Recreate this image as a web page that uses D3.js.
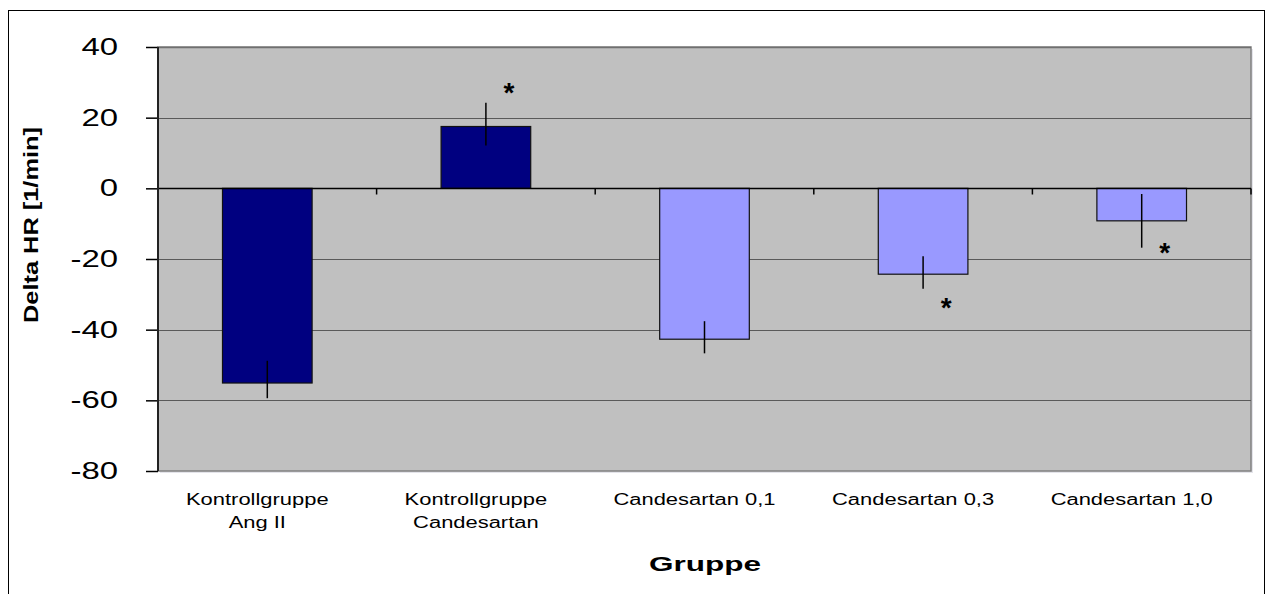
<!DOCTYPE html>
<html><head><meta charset="utf-8">
<script src="https://cdn.jsdelivr.net/npm/d3@7"></script>
<style>
body{margin:0;background:#fff}
svg{display:block}
text{font-family:"Liberation Sans",Arial,sans-serif;fill:#000}
</style>
</head><body>
<svg id="c" width="1267" height="594"></svg>
<script>
// ---- data ----
const categories = [["Kontrollgruppe","Ang II"],["Kontrollgruppe","Candesartan"],["Candesartan 0,1"],["Candesartan 0,3"],["Candesartan 1,0"]];
const values   = [-55.1, 17.5, -42.7, -24.3, -9.2];
const errLow   = [-59.4, 12.1, -46.7, -28.4, -16.8];
const errHigh  = [-48.8, 24.2, -37.6, -19.2, -1.6];
const starValues = [null, 28.1, null, -32.8, -17.2];
const yTicks = [40, 20, 0, -20, -40, -60, -80];
const barColors = ["#000080", "#000080", "#9999FF", "#9999FF", "#9999FF"];
const yTitle = "Delta HR [1/min]";
const xTitle = "Gruppe";

// ---- layout ----
const svg = d3.select("#c");
const P = {l: 158, r: 1251, t: 47, b: 471};
const x = d3.scaleBand().domain(d3.range(categories.length)).range([P.l, P.r])
  .paddingInner(0.59).paddingOuter(0.295);
const y = d3.scaleLinear().domain([-80, 40]).range([P.b, P.t]);

function stretch(sel, k) {
  sel.each(function () {
    const w = this.getComputedTextLength();
    this.setAttribute("textLength", w * k);
    this.setAttribute("lengthAdjust", "spacingAndGlyphs");
  });
}

// outer border
svg.append("rect").attr("x", 8.5).attr("y", 10.5).attr("width", 1256).attr("height", 600)
  .attr("fill", "#fff").attr("stroke", "#000").attr("stroke-width", 1);

// plot area shadow + background
svg.append("rect").attr("x", P.l + 2).attr("y", P.t + 2).attr("width", P.r - P.l).attr("height", P.b - P.t)
  .attr("fill", "#e4e4ea");
svg.append("rect").attr("x", P.l).attr("y", P.t).attr("width", P.r - P.l).attr("height", P.b - P.t)
  .attr("fill", "#C0C0C0").attr("stroke", "#808080").attr("stroke-width", 1.5);

// gridlines
svg.append("g").selectAll("line").data(yTicks.filter(d => d !== 0 && d !== -80 && d !== 40)).join("line")
  .attr("x1", P.l).attr("x2", P.r)
  .attr("y1", d => Math.round(y(d)) + 0.5).attr("y2", d => Math.round(y(d)) + 0.5)
  .attr("stroke", "#5a5a5a").attr("stroke-width", 1);
svg.append("line").attr("x1", P.l).attr("x2", P.r)
  .attr("y1", Math.round(y(40)) + 0.5).attr("y2", Math.round(y(40)) + 0.5)
  .attr("stroke", "#707070").attr("stroke-width", 1.5);

// bars
svg.append("g").selectAll("rect").data(values).join("rect")
  .attr("x", (d, i) => x(i))
  .attr("width", x.bandwidth())
  .attr("y", d => y(Math.max(0, d)))
  .attr("height", d => Math.abs(y(d) - y(0)))
  .attr("fill", (d, i) => barColors[i])
  .attr("stroke", "#111").attr("stroke-width", 1.2);

// zero line with category ticks
const zy = Math.round(y(0)) + 0.5;
svg.append("line").attr("x1", P.l).attr("x2", P.r).attr("y1", zy).attr("y2", zy)
  .attr("stroke", "#000").attr("stroke-width", 1.5);
svg.append("g").selectAll("line").data(d3.range(1, categories.length + 1)).join("line")
  .attr("x1", i => P.l + i * x.step()).attr("x2", i => P.l + i * x.step())
  .attr("y1", zy).attr("y2", zy + 6)
  .attr("stroke", "#000").attr("stroke-width", 1.5);

// error bars
svg.append("g").selectAll("line").data(values).join("line")
  .attr("x1", (d, i) => x(i) + x.bandwidth() / 2)
  .attr("x2", (d, i) => x(i) + x.bandwidth() / 2)
  .attr("y1", (d, i) => y(errHigh[i])).attr("y2", (d, i) => y(errLow[i]))
  .attr("stroke", "#000").attr("stroke-width", 1.5);

// significance stars
const starFs = 28;
svg.append("g").selectAll("text").data(starValues.map((v, i) => ({v, i})).filter(d => d.v !== null)).join("text")
  .attr("x", d => x(d.i) + x.bandwidth() / 2 + 23)
  .attr("y", d => y(d.v) + 0.47 * starFs)
  .attr("text-anchor", "middle")
  .style("font-size", starFs + "px")
  .style("font-weight", "bold")
  .text("*");

// y axis
const yAxis = svg.append("g").attr("transform", `translate(${P.l},0)`)
  .call(d3.axisLeft(y).tickValues(yTicks).tickSize(12).tickPadding(28).tickFormat(d => String(d)));
yAxis.select(".domain").remove();
yAxis.selectAll(".tick line").attr("stroke", "#000").attr("stroke-width", 1.5);
yAxis.selectAll(".tick text").style("font-size", "23px").style("font-family", "'Liberation Sans',Arial,sans-serif").attr("fill", "#000");
stretch(yAxis.selectAll(".tick text"), 1.43);
svg.append("line").attr("x1", P.l).attr("x2", P.l).attr("y1", P.t).attr("y2", P.b)
  .attr("stroke", "#222").attr("stroke-width", 2);

// x category labels
const xl = svg.append("g");
categories.forEach((lines, i) => {
  lines.forEach((ln, j) => {
    xl.append("text")
      .attr("x", x(i) + x.bandwidth() / 2 - 10)
      .attr("y", 504.5 + j * 23)
      .attr("text-anchor", "middle")
      .style("font-size", "16px")
      .text(ln);
  });
});
stretch(xl.selectAll("text"), 1.37);

// axis titles
const xt = svg.append("text").attr("x", 705).attr("y", 571).attr("text-anchor", "middle")
  .style("font-size", "21px").style("font-weight", "bold").text(xTitle);
stretch(xt, 1.5);
const yt = svg.append("text").attr("transform", "translate(38,225) rotate(-90)")
  .attr("text-anchor", "middle")
  .style("font-size", "20px").style("font-weight", "bold").text(yTitle);
yt.attr("textLength", 196).attr("lengthAdjust", "spacingAndGlyphs");
</script>
</body></html>
